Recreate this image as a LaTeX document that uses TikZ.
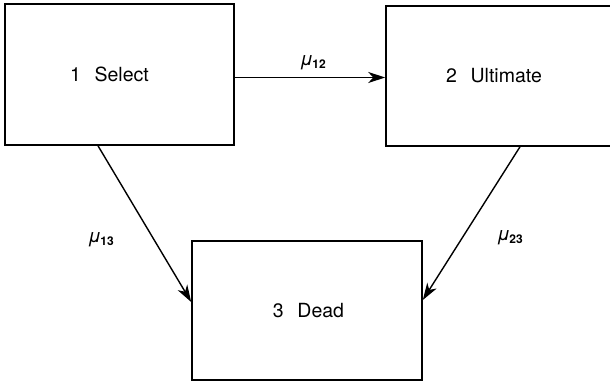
\documentclass[tikz,border=0pt]{standalone}
\usepackage{fontspec}
\setmainfont{TeX Gyre Heros}
\usetikzlibrary{arrows.meta}
\tikzset{
  statebox/.style={draw, line width=1.6pt, rectangle, inner sep=0pt, font=\fontsize{19.5}{22}\selectfont},
  arr/.style={line width=1.4pt, -{Stealth[length=17pt,width=11pt,inset=5pt]}},
  rate/.style={font=\fontsize{19}{20}\selectfont, inner sep=0pt}
}
\newcommand{\rlab}[1]{{\itshape μ}\kern-1pt\raisebox{-0.3ex}{\fontsize{12}{13}\selectfont\bfseries #1}}
\begin{document}
\begin{tikzpicture}[x=1pt,y=-1pt]
\useasboundingbox (0,0) rectangle (610,382);
\fill[white] (0,0) rectangle (610,382);
\node[statebox, minimum width=229pt, minimum height=141pt] (b1) at (119.5,74.5) {\hspace{-20pt}1\hspace{0.7em}Select};
\node[statebox, minimum width=232pt, minimum height=140pt] (b2) at (502,76) {\hspace{-16pt}2\hspace{0.7em}Ultimate};
\node[statebox, minimum width=230pt, minimum height=139pt] (b3) at (307,310.5) {\hspace{3pt}3\hspace{0.7em}Dead};
\draw[arr] ([yshift=-3pt]b1.east) -- ([yshift=-3pt]b1.east -| b2.west);
\draw[arr] ([xshift=-21.5pt]b1.south) -- ([yshift=8.5pt]b3.west);
\draw[arr] ([xshift=18pt]b2.south) -- ([yshift=10.5pt]b3.east);
\node[rate] (m12) at (313,63) {\rlab{12}};
\node[rate] (m13) at (101,240) {\rlab{13}};
\node[rate] (m23) at (510,238) {\rlab{23}};
\end{tikzpicture}
\end{document}
